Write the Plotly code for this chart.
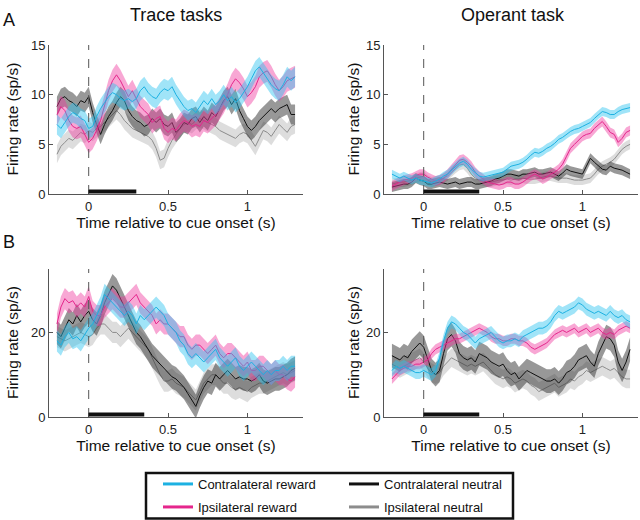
import numpy as np
import plotly.graph_objects as go

# ---------------- data ----------------
time_s = np.round(np.arange(-0.2, 1.3001, 0.025), 3)   # 61 samples, -0.2 .. 1.3 s

# Panel A, Trace tasks
traceA_contra_reward = [7.0, 6.6, 7.2, 7.8, 8.2, 8.0, 7.6, 7.4, 6.6, 6.8, 7.8, 8.6, 9.2, 9.8, 10.2, 10.0,
                        9.6, 9.4, 9.6, 9.3, 9.6, 10.4, 10.8, 10.2, 9.8, 9.6, 10.2, 10.6, 10.4, 10.8, 10.0, 9.4,
                        8.8, 8.4, 8.6, 8.2, 8.8, 9.4, 9.0, 9.6, 9.0, 9.4, 10.0, 9.4, 9.8, 9.2, 9.6, 10.2,
                        10.8, 11.6, 12.4, 12.8, 12.2, 11.6, 11.0, 10.6, 10.4, 11.0, 11.8, 11.4, 11.8]
traceA_ipsi_reward = [8.0, 8.8, 8.4, 7.4, 6.8, 6.6, 6.8, 6.0, 5.2, 5.6, 6.4, 7.4, 9.0, 10.4, 11.4, 12.0,
                      11.4, 10.6, 9.8, 10.4, 9.6, 8.8, 8.4, 8.0, 7.2, 7.6, 7.8, 6.6, 6.2, 6.6, 6.4, 7.0,
                      7.4, 7.2, 6.8, 7.0, 6.8, 7.4, 7.2, 7.6, 8.0, 8.6, 9.2, 10.0, 11.0, 11.6, 11.2, 10.6,
                      9.8, 10.2, 10.8, 11.8, 12.2, 12.4, 11.8, 11.0, 10.4, 10.8, 11.4, 11.6, 11.8]
traceA_contra_neutral = [8.8, 9.6, 9.8, 9.4, 9.2, 8.8, 9.4, 9.2, 9.8, 8.2, 7.0, 6.0, 7.0, 7.8, 8.4, 9.2,
                         9.8, 9.4, 8.4, 7.8, 7.4, 7.2, 6.8, 7.0, 7.6, 7.2, 7.6, 7.0, 6.8, 7.2, 6.2, 6.6,
                         7.2, 7.0, 7.6, 7.8, 7.2, 7.8, 7.4, 8.2, 7.8, 8.6, 9.4, 9.8, 9.0, 9.6, 8.4, 7.6,
                         6.8, 6.4, 6.8, 7.4, 7.8, 8.2, 8.6, 8.2, 8.6, 8.8, 9.0, 8.0, 8.0]
traceA_ipsi_neutral = [4.0, 4.8, 5.2, 5.6, 5.4, 5.8, 6.2, 6.0, 6.4, 6.2, 6.6, 6.8, 7.2, 7.6, 8.0, 8.4,
                       8.0, 7.4, 7.0, 6.6, 6.4, 6.2, 6.0, 5.8, 5.4, 4.6, 3.4, 3.6, 4.6, 5.4, 6.0, 6.6,
                       7.0, 7.2, 7.0, 7.4, 7.6, 7.4, 7.2, 7.0, 6.8, 6.4, 6.2, 6.0, 5.8, 5.6, 6.0, 6.2,
                       6.0, 5.4, 4.8, 5.6, 6.4, 6.2, 5.8, 6.4, 7.0, 6.6, 6.2, 6.8, 7.0]

# Panel A, Operant task
operA_contra_reward = [2.0, 1.8, 1.6, 1.8, 1.6, 1.4, 1.6, 1.4, 1.3, 1.2, 1.1, 1.3, 1.5, 1.8, 2.0, 2.4,
                       2.8, 3.1, 3.3, 3.0, 2.5, 2.1, 1.8, 1.7, 1.8, 1.9, 2.0, 2.1, 2.2, 2.5, 2.8, 2.9,
                       3.0, 3.2, 3.5, 3.9, 4.2, 4.1, 4.3, 4.6, 4.8, 5.1, 5.5, 5.7, 6.0, 6.3, 6.5, 6.6,
                       6.8, 7.0, 7.2, 7.6, 8.0, 8.3, 8.2, 8.0, 8.0, 8.3, 8.5, 8.6, 8.7]
operA_ipsi_reward = [0.8, 1.0, 1.2, 1.4, 1.5, 1.6, 1.8, 2.0, 2.0, 1.7, 1.5, 1.3, 1.4, 1.6, 2.0, 2.5,
                     3.0, 3.4, 3.5, 3.2, 2.8, 2.2, 1.8, 1.5, 1.2, 1.1, 1.0, 0.9, 1.0, 1.2, 1.2, 1.0,
                     1.0, 1.2, 1.5, 1.8, 2.0, 1.8, 1.5, 1.7, 2.0, 2.2, 2.5, 3.0, 3.8, 4.6, 5.0, 5.4,
                     5.8, 6.0, 6.1, 6.6, 7.0, 7.3, 6.8, 6.2, 6.0, 5.2, 5.6, 6.2, 6.4]
operA_contra_neutral = [0.7, 0.8, 0.9, 1.0, 1.0, 1.2, 1.6, 1.4, 1.3, 1.0, 1.0, 1.1, 1.2, 1.1, 1.0, 1.1,
                        1.2, 1.0, 1.1, 1.2, 1.2, 1.0, 1.0, 1.1, 1.2, 1.3, 1.5, 1.6, 1.8, 2.0, 2.0, 1.9,
                        1.8, 2.0, 2.0, 2.1, 2.2, 2.0, 2.0, 2.1, 2.2, 2.0, 1.8, 2.1, 2.5, 2.3, 2.2, 2.1,
                        2.0, 2.8, 3.6, 3.2, 2.8, 2.5, 2.4, 2.8, 2.6, 2.5, 2.4, 2.2, 2.0]
operA_ipsi_neutral = [1.0, 1.1, 1.2, 1.2, 1.3, 1.4, 1.6, 1.7, 1.8, 1.4, 1.2, 1.3, 1.4, 1.6, 1.8, 2.2,
                      2.6, 2.9, 3.0, 2.6, 2.0, 1.6, 1.4, 1.3, 1.2, 1.2, 1.3, 1.4, 1.4, 1.5, 1.4, 1.5,
                      1.5, 1.6, 1.5, 1.5, 1.5, 1.6, 1.7, 1.8, 1.8, 1.7, 1.6, 1.6, 1.6, 1.5, 1.4, 1.4,
                      1.4, 1.5, 1.6, 2.0, 2.5, 2.8, 3.0, 3.2, 3.5, 4.0, 4.5, 4.8, 5.0]

# Panel B, Trace tasks
traceB_contra_reward = [18, 17, 19, 20, 18.5, 19, 18, 19.5, 21, 22, 24, 26, 29, 28, 27, 26,
                        25, 24, 25, 24, 22, 24, 23, 24, 25, 26, 25, 24, 22, 21, 20, 18,
                        17, 15, 14, 15, 14, 13, 14, 15, 16, 14, 13, 12, 13, 14, 12, 11,
                        12, 13, 12, 11, 10, 11, 10, 11, 11, 12, 11, 12, 12]
traceB_ipsi_reward = [22, 26, 28, 27, 27.5, 26, 27, 26, 28.5, 25, 24, 24, 26, 27, 28, 27,
                      26, 26, 27, 28, 29, 27, 26, 25, 24, 22, 23, 22, 22, 21, 20, 19,
                      19, 17, 16, 17, 17, 16, 15, 16, 17, 15, 14, 15, 15, 14, 13, 12,
                      13, 11, 11, 12, 12, 11, 10, 11, 10, 10, 9, 8.5, 9.5]
traceB_contra_neutral = [20, 19, 21, 23, 22, 24, 22.5, 24, 25, 23, 22, 24, 27, 29, 31, 30,
                         28, 26, 24, 22, 20, 19, 17.5, 16, 14.5, 13.5, 12.5, 11.5, 10.5, 9.5, 9, 8,
                         7, 5.5, 4, 2.5, 5, 7, 8.5, 8, 10, 9, 10, 11, 10, 9, 9.5, 9,
                         9, 8.5, 9, 10, 8.5, 8, 8.5, 9, 9, 9.5, 10, 11, 11.5]
traceB_ipsi_neutral = [19, 18.5, 18, 18.5, 19, 19.5, 20, 19.5, 19, 19.5, 21, 22, 22, 21, 20, 20,
                       19, 20, 21, 20, 19, 18, 17, 16, 14, 12, 10, 8.5, 8.5, 9, 8, 7.5,
                       7, 6, 5, 4, 6, 8, 9, 10, 10, 9, 8, 8, 7, 6.5, 7, 6.5,
                       6, 7, 7.5, 8, 8, 8.5, 9, 9.5, 10, 10.5, 10, 10.5, 11]

# Panel B, Operant task
operB_contra_reward = [11, 12, 11.5, 12, 11.5, 11, 10.5, 10.5, 11, 10.5, 10, 11, 14, 18, 21, 22.5,
                       22, 21, 20, 19.5, 18.5, 17.5, 18.5, 19, 19.5, 20, 19, 18, 17.5, 18, 18, 18.5,
                       18, 19, 19.5, 20, 20.5, 21, 21, 21.5, 22.5, 24, 25, 24.5, 25, 25.5, 26, 27,
                       26.5, 25.5, 25, 24.5, 25, 24.5, 24, 25, 24, 23.5, 24, 23, 22.5]
operB_ipsi_reward = [9, 10, 11, 11.5, 12, 12, 12.5, 12.5, 13, 13.5, 15, 16, 16.5, 17, 17.5, 18,
                     18.5, 18.5, 19, 19.5, 20, 20.5, 21, 20.5, 20, 19, 18.5, 18.5, 18, 18, 18.5, 18.5,
                     18, 18, 17.5, 16.5, 16, 16.5, 17, 17.5, 18.5, 19.5, 20, 20.5, 20, 20.5, 21, 20,
                     20.5, 21, 20, 20.5, 21, 20, 19.5, 20, 19.5, 20.5, 21, 21.5, 21]
operB_contra_neutral = [14.5, 14, 13.5, 14.5, 14, 15.5, 16.5, 17.5, 16.5, 14, 11, 10, 11, 15, 18.5, 19.5,
                        18, 15, 14, 13.5, 14, 13, 15, 14.5, 14, 13, 12.5, 12, 12.5, 11, 10, 10.5,
                        9, 10, 11, 10.5, 10, 9.5, 9, 8.5, 8.5, 9, 8, 9, 10.5, 11, 12, 13.5,
                        14, 14.5, 13, 12, 15, 17, 19, 18.5, 17, 13, 11, 13, 16]
operB_ipsi_neutral = [12.5, 12, 11.5, 12, 12.5, 13, 13.5, 14, 13, 11.5, 10.5, 10, 10.5, 12, 13, 14,
                      13.5, 13, 12.5, 12, 12.5, 12, 12.5, 13, 12, 11, 10, 9.5, 9, 9.5, 9, 8,
                      8.5, 9, 8.5, 7.5, 7, 6, 6.5, 7, 7.5, 8, 7, 7.5, 8, 9, 8.5, 9.5,
                      10, 11, 10.5, 11, 11.5, 12, 11.5, 11, 11.5, 10.5, 9.5, 9, 9]

# SEM (half-width of shaded band) per series: [contra reward, ipsi reward, contra neutral, ipsi neutral]
sem_traceA = [1.0, 1.1, 1.0, 0.9]
sem_operA = [0.45, 0.5, 0.5, 0.5]
sem_traceB = [2.5, 2.5, 2.8, 2.5]
sem_operB = [1.5, 1.2, 2.8, 2.2]

cue_duration = [0.30, 0.35, 0.35, 0.35]     # cue period bar (s), panels A-trace, A-operant, B-trace, B-operant
y_max = [15, 15, 35, 35]
y_ticks = [[0, 5, 10, 15], [0, 5, 10, 15], [0, 20], [0, 20]]
x_ticks = [0, 0.5, 1]
x_tick_text = ["0", "0.5", "1"]

series_names = ["Contralateral reward", "Ipsilateral reward", "Contralateral neutral", "Ipsilateral neutral"]
line_colors = ["#1cb1e2", "#e5268c", "#111111", "#8c8c8c"]
band_colors = ["rgba(45,195,240,0.45)", "rgba(240,60,160,0.45)", "rgba(50,50,50,0.5)", "rgba(170,170,170,0.4)"]

panels = [
    [traceA_contra_reward, traceA_ipsi_reward, traceA_contra_neutral, traceA_ipsi_neutral],
    [operA_contra_reward, operA_ipsi_reward, operA_contra_neutral, operA_ipsi_neutral],
    [traceB_contra_reward, traceB_ipsi_reward, traceB_contra_neutral, traceB_ipsi_neutral],
    [operB_contra_reward, operB_ipsi_reward, operB_contra_neutral, operB_ipsi_neutral],
]
panel_sems = [sem_traceA, sem_operA, sem_traceB, sem_operB]

# ---------------- figure ----------------
W, H = 640, 520
FONT = "Liberation Sans, Arial, Helvetica, sans-serif"
fig = go.Figure()

draw_order = [3, 2, 1, 0]   # ipsi neutral, contra neutral, ipsi reward, contra reward
for p, series in enumerate(panels):
    xa = "x" if p == 0 else f"x{p+1}"
    ya = "y" if p == 0 else f"y{p+1}"
    for k in draw_order:
        y = np.array(series[k], dtype=float)
        s = panel_sems[p][k]
        fig.add_trace(go.Scatter(
            x=np.concatenate([time_s, time_s[::-1]]),
            y=np.concatenate([y + s, (y - s)[::-1]]),
            fill="toself", fillcolor=band_colors[k], line=dict(width=0),
            mode="lines", hoverinfo="skip", showlegend=False, xaxis=xa, yaxis=ya))
        fig.add_trace(go.Scatter(
            x=time_s, y=y, mode="lines", line=dict(color=line_colors[k], width=1),
            name=series_names[k], showlegend=False, xaxis=xa, yaxis=ya))

# legend entries (thick sample lines), one legend per entry for a 2x2 grid
legend_ids = ["legend", "legend2", "legend3", "legend4"]
for k in range(4):
    fig.add_trace(go.Scatter(x=[None], y=[None], mode="lines",
                             line=dict(color=line_colors[k], width=3),
                             name=series_names[k], showlegend=True, legend=legend_ids[k]))

leg_x = [158 / W, 158 / W, 344 / W, 344 / W]
leg_y = [1 - 484 / H, 1 - 507 / H, 1 - 484 / H, 1 - 507 / H]
layout_legends = {}
for k in range(4):
    layout_legends[legend_ids[k]] = dict(
        x=leg_x[k], y=leg_y[k], xanchor="left", yanchor="middle",
        xref="container", yref="container",
        bgcolor="rgba(0,0,0,0)", borderwidth=0,
        font=dict(family=FONT, size=13, color="#111"))

# panel geometry (paper fractions)
x_domains = [[49 / W, 303 / W], [384 / W, 638 / W], [49 / W, 303 / W], [384 / W, 638 / W]]
y_domains = [[1 - 194 / H, 1 - 45 / H], [1 - 194 / H, 1 - 45 / H],
             [1 - 417 / H, 1 - 269 / H], [1 - 417 / H, 1 - 269 / H]]
y_title_x = [12 / W, 353 / W, 12 / W, 353 / W]

axis_common = dict(showline=True, linecolor="#555", linewidth=1, ticks="inside", ticklen=4,
                   tickcolor="#555", showgrid=False, zeroline=False,
                   tickfont=dict(family=FONT, size=13, color="#222"))

layout = dict(width=W, height=H, margin=dict(l=0, r=0, t=0, b=0, autoexpand=False),
              paper_bgcolor="white", plot_bgcolor="white",
              font=dict(family=FONT, color="#222"), **layout_legends)

shapes = []
annotations = []
for p in range(4):
    xn = "xaxis" if p == 0 else f"xaxis{p+1}"
    yn = "yaxis" if p == 0 else f"yaxis{p+1}"
    xr = "x" if p == 0 else f"x{p+1}"
    yr = "y" if p == 0 else f"y{p+1}"
    layout[xn] = dict(domain=x_domains[p], anchor=yr, range=[-0.25, 1.35],
                      tickvals=x_ticks, ticktext=x_tick_text,
                      title=dict(text="Time relative to cue onset (s)", standoff=4,
                                 font=dict(family=FONT, size=15.5, color="#111")),
                      automargin=False, **axis_common)
    layout[yn] = dict(domain=y_domains[p], anchor=xr, range=[0, y_max[p]],
                      tickvals=y_ticks[p], automargin=False, **axis_common)
    # y-axis title
    annotations.append(dict(text="Firing rate (sp/s)", textangle=-90,
                            x=y_title_x[p], y=sum(y_domains[p]) / 2, xref="paper", yref="paper",
                            showarrow=False, xanchor="center", yanchor="middle",
                            font=dict(family=FONT, size=15.5, color="#111")))
    # cue onset dashed line
    shapes.append(dict(type="line", xref=xr, yref=f"{yr} domain", x0=0, x1=0, y0=0, y1=1,
                       line=dict(color="#555", width=1, dash="dash")))
    # cue period bar
    shapes.append(dict(type="rect", xref=xr, yref=f"{yr} domain", x0=0, x1=cue_duration[p],
                       y0=0.004, y1=0.03, fillcolor="#111", line=dict(width=0)))

# legend frame
shapes.append(dict(type="rect", xref="paper", yref="paper", x0=146 / W, x1=513 / W,
                   y0=1.5 / H, y1=47 / H, line=dict(color="#111", width=2.5),
                   fillcolor="rgba(0,0,0,0)"))
layout["shapes"] = shapes

annotations += [
    dict(text="Trace tasks", x=176 / W, y=1 - 15 / H, xref="paper", yref="paper",
         showarrow=False, xanchor="center", yanchor="middle",
         font=dict(family=FONT, size=18, color="#111")),
    dict(text="Operant task", x=513 / W, y=1 - 15 / H, xref="paper", yref="paper",
         showarrow=False, xanchor="center", yanchor="middle",
         font=dict(family=FONT, size=18, color="#111")),
    dict(text="A", x=1 / W, y=1 - 20 / H, xref="paper", yref="paper", showarrow=False,
         xanchor="left", yanchor="middle", font=dict(family=FONT, size=18, color="#111")),
    dict(text="B", x=1 / W, y=1 - 242 / H, xref="paper", yref="paper", showarrow=False,
         xanchor="left", yanchor="middle", font=dict(family=FONT, size=18, color="#111")),
]
layout["annotations"] = annotations

fig.update_layout(**layout)
fig.write_html("out.html", config={"displayModeBar": False},
               post_script="document.body.style.margin='0';")
